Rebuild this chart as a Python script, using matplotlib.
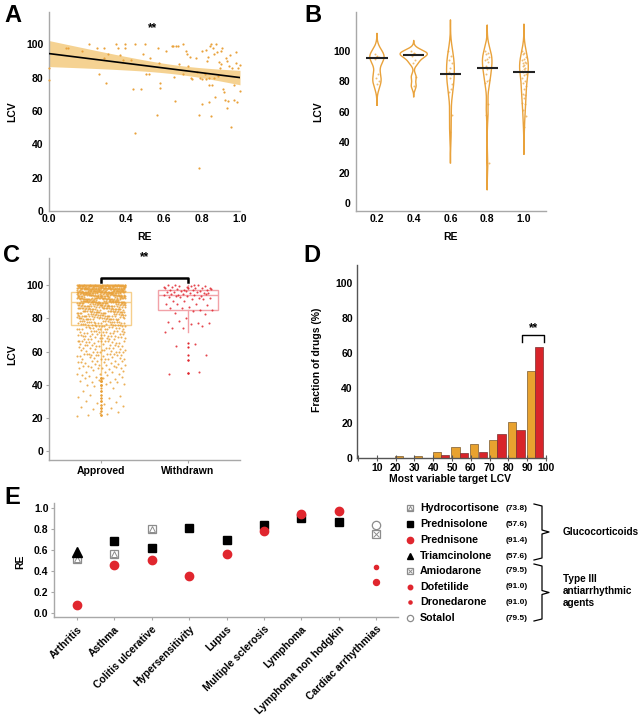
import numpy as np
import matplotlib
matplotlib.use('Agg')
import matplotlib.pyplot as plt
from matplotlib.patches import Rectangle

plt.rcParams['font.family'] = ['Liberation Sans', 'DejaVu Sans']
plt.rcParams['font.weight'] = 'bold'
plt.rcParams['axes.labelweight'] = 'bold'

# ---------------- data ----------------
# Panel A: RE vs LCV scatter
a_re = [0.0, 0.0, 0.088, 0.10, 0.175, 0.21, 0.25, 0.26, 0.29, 0.30,
        0.29, 0.31, 0.35, 0.36, 0.37, 0.40, 0.40, 0.39, 0.43, 0.44,
        0.45, 0.45, 0.48, 0.49, 0.50, 0.51, 0.525, 0.53, 0.566, 0.57,
        0.575, 0.58, 0.58, 0.615, 0.645, 0.65, 0.665, 0.674, 0.655, 0.66,
        0.68, 0.70, 0.70, 0.715, 0.72, 0.727, 0.737, 0.746, 0.75, 0.77,
        0.776, 0.786, 0.786, 0.79, 0.80, 0.80, 0.80, 0.815, 0.82, 0.82,
        0.825, 0.83, 0.84, 0.84, 0.84, 0.845, 0.85, 0.85, 0.855, 0.86,
        0.863, 0.865, 0.87, 0.876, 0.877, 0.883, 0.89, 0.893, 0.90, 0.90,
        0.904, 0.91, 0.916, 0.92, 0.925, 0.93, 0.933, 0.937, 0.94, 0.95,
        0.955, 0.96, 0.968, 0.97, 0.977, 0.98, 0.986, 0.99, 1.0, 1.0]
a_lcv = [85.6, 78.6, 98, 98, 96, 100, 98, 82, 98, 77,
         91.6, 94, 100, 98, 93.6, 100, 98, 90.6, 90.6, 73,
         100, 47, 73, 94, 100, 82, 82, 91.6, 57.6, 98,
         89, 77, 74, 96, 99, 99, 99, 99, 80.6, 66,
         88, 100, 82, 96, 94, 87, 92.6, 79.6, 79, 91.6,
         83.6, 57.6, 25.6, 80, 79, 96, 64, 82, 79, 96.6,
         90, 92.6, 75.6, 65.6, 80, 99, 57, 100, 75.6, 97.6,
         94, 80, 68.6, 100, 95.6, 81, 89.6, 85.6, 96, 88,
         98, 73, 71.6, 66.6, 92, 61.6, 90, 66, 87, 93.6,
         50.6, 85.6, 66.6, 75.6, 95.6, 88.6, 65.6, 85.6, 87.6, 72]

# Panel B: LCV grouped by RE
b_groups = ['0.2', '0.4', '0.6', '0.8', '1.0']
b_re02 = [98, 97, 96, 96, 96, 95, 85, 82, 80, 78]
b_re04 = [100, 99, 98, 98, 98, 97, 94, 92, 83, 77]
b_re06 = [100, 97, 94, 92, 89, 86, 85, 82, 78, 75, 73, 58, 47]
b_re08 = [100, 99, 98, 96, 95, 94, 93, 90, 89, 88, 85, 81, 80, 79, 65, 58, 26]
b_re10 = [100, 99, 98, 96, 95, 94, 93, 92, 92, 91, 90, 89, 88, 87, 87, 86,
          85, 84, 82, 80, 79, 77, 75, 72, 71, 69, 66, 65, 61, 57, 50]

# Panel C: LCV of approved / withdrawn drugs (value levels and counts)
c_groups = ['Approved', 'Withdrawn']
approved_levels = [22, 24, 26, 28, 30, 32, 34, 36, 38, 40, 42, 44, 46, 48,
                   50, 52, 54, 56, 58, 60, 62, 64, 66, 68, 70, 72, 74, 76, 78,
                   80, 82, 84, 86, 88, 90, 92, 94, 96, 98, 100]
approved_counts = [3, 2, 3, 2, 3, 2, 2, 2, 1, 4, 5, 5, 6, 5,
                   7, 8, 9, 9, 14, 10, 10, 11, 14, 12, 14, 15, 16, 18, 21,
                   28, 30, 32, 34, 38, 50, 55, 60, 70, 80, 100]
withdrawn_levels = [100, 99, 98, 97, 96, 95, 94, 93, 92, 91, 90, 89, 88, 87,
                    86, 85, 84, 82, 80, 78, 77, 75, 74, 72, 65, 63, 58, 55, 47]
withdrawn_counts = [8, 4, 6, 5, 5, 4, 6, 3, 3, 2, 1, 2, 2, 2,
                    2, 2, 1, 1, 1, 3, 2, 2, 1, 1, 1, 1, 1, 1, 2]

# Panel D: fraction of drugs per LCV bin
d_bins = [0, 10, 20, 30, 40, 50, 60, 70, 80, 90]
d_approved = [0, 0, 1.3, 1.3, 3.6, 6.5, 7.8, 10.5, 20.3, 49.4]
d_withdrawn = [0, 0, 0, 0, 1.5, 2.7, 3.4, 13.5, 16.0, 63.5]

# Panel E: RE per disease for each drug
nan = np.nan
e_diseases = ['Arthritis', 'Asthma', 'Colitis ulcerative', 'Hypersensitivity',
              'Lupus', 'Multiple sclerosis', 'Lymphoma', 'Lymphoma non hodgkin',
              'Cardiac arrhythmias']
e_drugs = ['Hydrocortisone', 'Prednisolone', 'Prednisone', 'Triamcinolone',
           'Amiodarone', 'Dofetilide', 'Dronedarone', 'Sotalol']
e_drug_lcv = ['73.8', '57.6', '91.4', '57.6', '79.5', '91.0', '91.0', '79.5']
re_hydrocortisone = [0.517, 0.565, 0.80, nan, nan, nan, nan, nan, nan]
re_prednisolone = [nan, 0.683, 0.62, 0.81, 0.70, 0.835, 0.905, 0.863, nan]
re_prednisone = [0.079, 0.454, 0.508, 0.35, 0.565, 0.784, 0.94, 0.968, nan]
re_triamcinolone = [0.578, nan, nan, nan, nan, nan, nan, nan, nan]
re_amiodarone = [nan, nan, nan, nan, nan, nan, nan, nan, 0.752]
re_dofetilide = [nan, nan, nan, nan, nan, nan, nan, nan, 0.30]
re_dronedarone = [nan, nan, nan, nan, nan, nan, nan, nan, 0.438]
re_sotalol = [nan, nan, nan, nan, nan, nan, nan, nan, 0.838]

# ---------------- style ----------------
ORANGE = '#E9A23B'
ORANGE_L = '#F6CF8C'
RED = '#E0262E'
RED_L = '#F2A2A8'
SPINE = '#a8a8a8'
GREY = '#8c8c8c'
FS = 7.5

W, H = 643, 718
fig = plt.figure(figsize=(W / 100, H / 100), dpi=100)


def ax_px(l, t, r, b):
    return fig.add_axes([l / W, 1 - b / H, (r - l) / W, (b - t) / H])


def label_px(ax, which, px, py):
    x0, y0, w, h = ax.get_position().bounds
    fx, fy = px / W, 1 - py / H
    ax_x, ax_y = (fx - x0) / w, (fy - y0) / h
    lab = ax.yaxis if which == 'y' else ax.xaxis
    lab.set_label_coords(ax_x, ax_y)
    lab.label.set_verticalalignment('center')


def base_style(ax, spine=SPINE):
    for s in ['top', 'right']:
        ax.spines[s].set_visible(False)
    for s in ['left', 'bottom']:
        ax.spines[s].set_color(spine)
        ax.spines[s].set_linewidth(1.0)
    ax.tick_params(labelsize=FS, length=2, color=spine, pad=2)
    for t in ax.get_xticklabels() + ax.get_yticklabels():
        t.set_fontweight('bold')


ov = fig.add_axes([0, 0, 1, 1])
ov.set_xlim(0, W)
ov.set_ylim(H, 0)
ov.axis('off')

# ---------------- Panel A ----------------
axA = ax_px(49, 12, 240, 211)
x = np.array(a_re)
y = np.array(a_lcv)
axA.scatter(x, y, s=2.5, color=ORANGE, linewidths=0, zorder=3, clip_on=False)
n = len(x)
b1, b0 = np.polyfit(x, y, 1)
res = y - (b0 + b1 * x)
se = np.sqrt((res ** 2).sum() / (n - 2))
xg = np.linspace(0, 1, 100)
sxx = ((x - x.mean()) ** 2).sum()
hw = 1.984 * se * np.sqrt(1 / n + (xg - x.mean()) ** 2 / sxx)
fit = b0 + b1 * xg
axA.fill_between(xg, fit - hw, fit + hw, color='#F2C46E', alpha=0.75, lw=0, zorder=1)
axA.plot(xg, fit, color='black', lw=1.2, zorder=4)
axA.set_xlim(0, 1.0)
axA.set_ylim(0, 119.4)
axA.set_xticks([0, 0.2, 0.4, 0.6, 0.8, 1.0])
axA.set_yticks([0, 20, 40, 60, 80, 100])
base_style(axA)
axA.tick_params(length=0)
axA.tick_params(axis='y', pad=4)
axA.text(0.54, 110, '**', ha='center', va='center', fontsize=FS + 1)
axA.set_ylabel('LCV', fontsize=FS)
axA.set_xlabel('RE', fontsize=FS)
label_px(axA, 'y', 12, 112)
label_px(axA, 'x', 144, 237)

# ---------------- Panel B ----------------
axB = ax_px(356, 12, 546, 211)
groups = [b_re02, b_re04, b_re06, b_re08, b_re10]
dens = []
for v in groups:
    v = np.asarray(v, float)
    m = len(v)
    q75, q25 = np.percentile(v, [75, 25])
    bw = 0.9 * min(v.std(ddof=1), (q75 - q25) / 1.34) * m ** -0.2
    grid = np.linspace(v.min() - 3 * bw, v.max() + 3 * bw, 300)
    d = np.exp(-0.5 * ((grid[:, None] - v[None, :]) / bw) ** 2).sum(1) / (m * bw * np.sqrt(2 * np.pi))
    dens.append((grid, d))
scale = 0.37 / max(d.max() for _, d in dens)
for i, (v, (grid, d)) in enumerate(zip(groups, dens)):
    xs = np.r_[i - d * scale, (i + d * scale)[::-1], i - d[0] * scale]
    ys = np.r_[grid, grid[::-1], grid[0]]
    axB.plot(xs, ys, color=ORANGE, lw=1.0)
    k = np.arange(len(v))
    jit = ((k * 0.618034) % 1 - 0.5) * 0.12
    axB.scatter(i + jit, v, s=2, color=ORANGE, alpha=0.7, linewidths=0, zorder=3)
    axB.hlines(np.median(v), i - 0.29, i + 0.29, color='#222222', lw=1.5, zorder=4)
axB.set_xlim(-0.57, 4.6)
axB.set_ylim(-5.3, 125.7)
axB.set_xticks(range(5), b_groups)
axB.set_yticks([0, 20, 40, 60, 80, 100])
base_style(axB)
axB.tick_params(length=0)
axB.tick_params(axis='y', pad=4)
axB.set_ylabel('LCV', fontsize=FS)
axB.set_xlabel('RE', fontsize=FS)
label_px(axB, 'y', 318, 112)
label_px(axB, 'x', 450, 237)

# ---------------- Panel C ----------------
axC = ax_px(49, 258, 240, 460)
appr = np.repeat(approved_levels, approved_counts).astype(float)
wdr = np.repeat(withdrawn_levels, withdrawn_counts).astype(float)
for pos, vals, col, lcol in [(1, appr, ORANGE, ORANGE_L), (2, wdr, RED, RED_L)]:
    bp = axC.boxplot([vals], positions=[pos], widths=0.7, manage_ticks=False,
                     patch_artist=True,
                     flierprops=dict(marker='o', markersize=1.6, markerfacecolor=col,
                                     markeredgecolor='none'))
    for b in bp['boxes']:
        b.set_facecolor('none')
        b.set_edgecolor(lcol)
        b.set_linewidth(1.0)
    for key in ['whiskers', 'medians']:
        for ln in bp[key]:
            ln.set_color(lcol)
            ln.set_linewidth(1.0)
    for ln in bp['caps']:
        ln.set_visible(False)
    k = np.arange(len(vals))
    jx = ((k * 0.618034) % 1 - 0.5) * 0.56
    jy = ((k * 0.754878) % 1 - 0.5) * 1.6
    axC.scatter(pos + jx, np.minimum(vals + jy, 100.5), s=2.2, color=col, linewidths=0,
                alpha=0.85, zorder=3)
axC.plot([1, 1, 2, 2], [101.8, 104.4, 104.4, 101.8], color='black', lw=1.8,
         clip_on=False, zorder=5)
axC.text(1.5, 117, '**', ha='center', va='center', fontsize=FS + 1, clip_on=False)
axC.set_xlim(0.4, 2.6)
axC.set_ylim(-5.4, 116.5)
axC.set_xticks([1, 2], c_groups)
axC.set_yticks([0, 20, 40, 60, 80, 100])
base_style(axC)
axC.set_ylabel('LCV', fontsize=FS)
label_px(axC, 'y', 12, 355)

# ---------------- Panel D ----------------
axD = ax_px(357, 265, 546, 458)
bins = np.array(d_bins, float)
axD.bar(bins + 1.9, d_approved, width=4.4, color='#E8A22F', edgecolor='#7a5a30', lw=0.5)
axD.bar(bins + 6.4, d_withdrawn, width=4.4, color='#D8242A', edgecolor='#7a3030', lw=0.5)
axD.plot([87.3, 87.3, 99, 99], [66.2, 70.2, 70.2, 66.2], color='black', lw=1.0, clip_on=False)
axD.text(93.2, 70.5, '**', ha='center', va='bottom', fontsize=FS + 1)
axD.set_xlim(-0.5, 100)
axD.set_ylim(0, 110)
axD.set_xticks(np.arange(0, 101, 10), [''] + [str(v) for v in range(10, 101, 10)])
axD.set_yticks([0, 20, 40, 60, 80, 100])
base_style(axD, spine='#555555')
axD.tick_params(axis='x', direction='inout', length=5, pad=1)
axD.tick_params(axis='y', length=0, pad=3)
axD.set_ylabel('Fraction of drugs (%)', fontsize=FS)
axD.set_xlabel('Most variable target LCV', fontsize=FS)
label_px(axD, 'y', 317, 360)
label_px(axD, 'x', 450, 479)
# legend
ov.add_patch(Rectangle((381, 277), 7, 9, facecolor='#E8A22F', edgecolor='#7a5a30', lw=0.4))
ov.add_patch(Rectangle((381, 286), 7, 9, facecolor='#D8242A', edgecolor='#7a3030', lw=0.4))
ov.text(396, 281, 'Approved', fontsize=6, fontweight='normal', va='center', color='#333333')
ov.text(396, 291, 'Withdrawn', fontsize=6, fontweight='normal', va='center', color='#333333')

# ---------------- Panel E ----------------
axE = ax_px(54, 503, 398, 617)
styles = {
    'Hydrocortisone': [dict(marker='s', ms=6, mfc='white', mec=GREY, mew=0.9),
                       dict(marker='^', ms=4.2, mfc='white', mec=GREY, mew=0.7)],
    'Prednisolone': [dict(marker='s', ms=5.5, mfc='black', mec='black')],
    'Prednisone': [dict(marker='o', ms=6, mfc=RED, mec=RED)],
    'Triamcinolone': [dict(marker='^', ms=6.5, mfc='black', mec='black')],
    'Amiodarone': [dict(marker='s', ms=5.5, mfc='white', mec=GREY, mew=0.9),
                   dict(marker='x', ms=3.8, mec=GREY, mew=0.7)],
    'Dofetilide': [dict(marker='o', ms=4.3, mfc=RED, mec=RED)],
    'Dronedarone': [dict(marker='o', ms=3.0, mfc=RED, mec=RED)],
    'Sotalol': [dict(marker='o', ms=6, mfc='white', mec=GREY, mew=0.9)],
}
series = [re_hydrocortisone, re_prednisolone, re_prednisone, re_triamcinolone,
          re_amiodarone, re_dofetilide, re_dronedarone, re_sotalol]
xpos = np.arange(len(e_diseases))
for drug, vals in zip(e_drugs, series):
    for st in styles[drug]:
        axE.plot(xpos, vals, linestyle='none', zorder=3, **st)
axE.set_xlim(-0.61, 8.58)
axE.set_ylim(-0.038, 1.048)
axE.set_xticks(xpos, e_diseases, rotation=45, ha='right', rotation_mode='anchor')
axE.set_yticks([0, 0.2, 0.4, 0.6, 0.8, 1.0], ['0.0', '0.2', '0.4', '0.6', '0.8', '1.0'])
base_style(axE)
axE.tick_params(axis='x', pad=3)
axE.set_ylabel('RE', fontsize=FS)
label_px(axE, 'y', 20, 562)

# legend for E
row_y = [508, 524, 540, 556, 571, 587, 602, 618]
for drug, val, ry in zip(e_drugs, e_drug_lcv, row_y):
    for st in styles[drug]:
        st2 = dict(st)
        st2['ms'] = st['ms'] * 0.75
        ov.plot([410], [ry], linestyle='none', **st2)
    ov.text(420, ry, drug, fontsize=7.7, va='center', ha='left')
    ov.text(506, ry, '(' + val + ')', fontsize=6, va='center', ha='left')


def brace(x, y0, y1):
    ym = (y0 + y1) / 2
    ov.plot([x - 8, x, x, x + 7, x, x, x - 8],
            [y0, y0 + 2, ym - 2, ym, ym + 2, y1 - 2, y1], color='black', lw=0.9)


brace(542, 504, 560)
brace(542, 564, 621)
ov.text(563, 532, 'Glucocorticoids', fontsize=7.2, va='center', ha='left')
ov.text(563, 591, 'Type III\nantiarrhythmic\nagents', fontsize=7.2, va='center', ha='left',
        linespacing=1.2)

# panel letters
for lab, (px, py) in zip('ABCDE', [(13, 15), (313, 15), (12, 256), (312, 256), (12, 497)]):
    ov.text(px, py, lab, fontsize=17, fontweight='bold', ha='center', va='center')

fig.savefig('out.png', dpi=100)
